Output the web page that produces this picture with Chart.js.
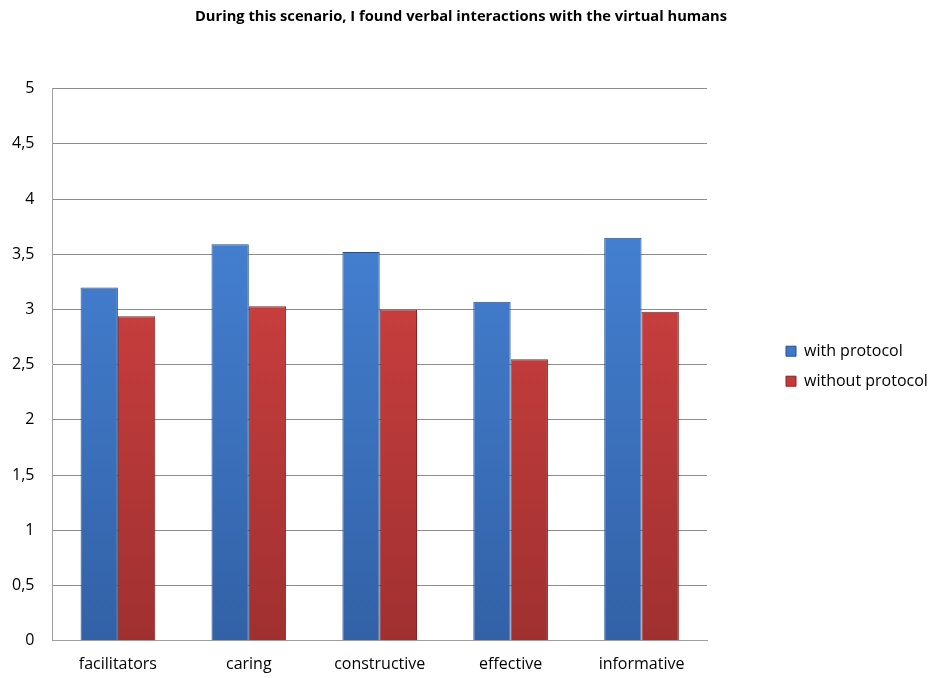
<!DOCTYPE html>
<html lang="en">
<head>
  <meta charset="UTF-8" />
  <title>Verbal interactions with the virtual humans</title>
  <script src="https://cdn.jsdelivr.net/npm/chart.js"></script>
  <style>
    html, body {
      margin: 0;
      padding: 0;
      background: #fff;
    }
    #wrap {
      width: 928px;
      height: 678px;
    }
  </style>
</head>
<body>
  <div id="wrap"><canvas id="chart"></canvas></div>

  <script>
    const categories = ['facilitators', 'caring', 'constructive', 'effective', 'informative'];
    const withProtocol = [3.2, 3.59, 3.52, 3.07, 3.65];
    const withoutProtocol = [2.94, 3.03, 3.0, 2.55, 2.98];
    const yTicks = [0, 0.5, 1, 1.5, 2, 2.5, 3, 3.5, 4, 4.5, 5];

    const FONT = "'Open Sans', 'Noto Sans', sans-serif";

    // vertical gradient over the chart area, light at top, darker at the base
    function shade(top, bottom) {
      return (ctx) => {
        const area = ctx.chart.chartArea;
        if (!area) return top;
        const g = ctx.chart.ctx.createLinearGradient(0, area.top, 0, area.bottom);
        g.addColorStop(0, top);
        g.addColorStop(1, bottom);
        return g;
      };
    }

    const chart = new Chart(document.getElementById('chart'), {
      type: 'bar',
      data: {
        labels: categories,
        datasets: [{
          label: 'with protocol',
          data: withProtocol,
          backgroundColor: shade('#4a8ae0', '#3261a6'),
          borderColor: '#244f8c',
          borderWidth: 1
        }, {
          label: 'without protocol',
          data: withoutProtocol,
          backgroundColor: shade('#e04646', '#a03030'),
          borderColor: '#862424',
          borderWidth: 1
        }]
      },
      options: {
        responsive: true,
        maintainAspectRatio: false,
        animation: false,
        datasets: {
          bar: { categoryPercentage: 0.57, barPercentage: 1 }
        },
        // ticks reserve twice their padding, so pull the outer edges back
        layout: { padding: { top: 3, left: -6, bottom: -10, right: 0 } },
        plugins: {
          title: {
            display: true,
            text: 'During this scenario, I found verbal interactions with the virtual humans',
            color: '#000',
            font: { family: FONT, size: 14.7, weight: 'bold' },
            padding: { top: 5, bottom: 63 }
          },
          legend: {
            position: 'right',
            maxWidth: 156,
            title: { display: true, text: '', font: { size: 12 }, padding: { top: 27, bottom: 0 } },
            labels: {
              color: '#000',
              font: { family: FONT, size: 16 },
              boxWidth: 10,
              boxHeight: 10,
              padding: 14,
              generateLabels(c) {
                const cols = ['#3f78c8', '#c83a3a'];
                return c.data.datasets.map((d, i) => ({
                  text: d.label,
                  fillStyle: cols[i],
                  strokeStyle: i ? '#862424' : '#244f8c',
                  fontColor: '#000',
                  lineWidth: 1,
                  datasetIndex: i
                }));
              }
            }
          },
          tooltip: { enabled: false }
        },
        scales: {
          x: {
            grid: { display: false, drawTicks: false },
            border: { color: '#a0a0a0' },
            ticks: { color: '#000', font: { family: FONT, size: 16 }, padding: 14 }
          },
          y: {
            min: 0,
            max: 5,
            afterBuildTicks(s) { s.ticks = yTicks.map(v => ({ value: v })); },
            grid: { color: '#8c8c8c', drawTicks: false },
            border: { color: '#a0a0a0' },
            ticks: {
              color: '#000',
              font: { family: FONT, size: 16 },
              padding: 18,
              callback: v => String(v).replace('.', ',')
            }
          },
          spacer: {
            position: 'right',
            display: true,
            grid: { display: false },
            border: { display: false },
            ticks: { display: false },
            afterFit(s) { s.width = 65; }
          }
        }
      }
    });
  </script>
</body>
</html>
